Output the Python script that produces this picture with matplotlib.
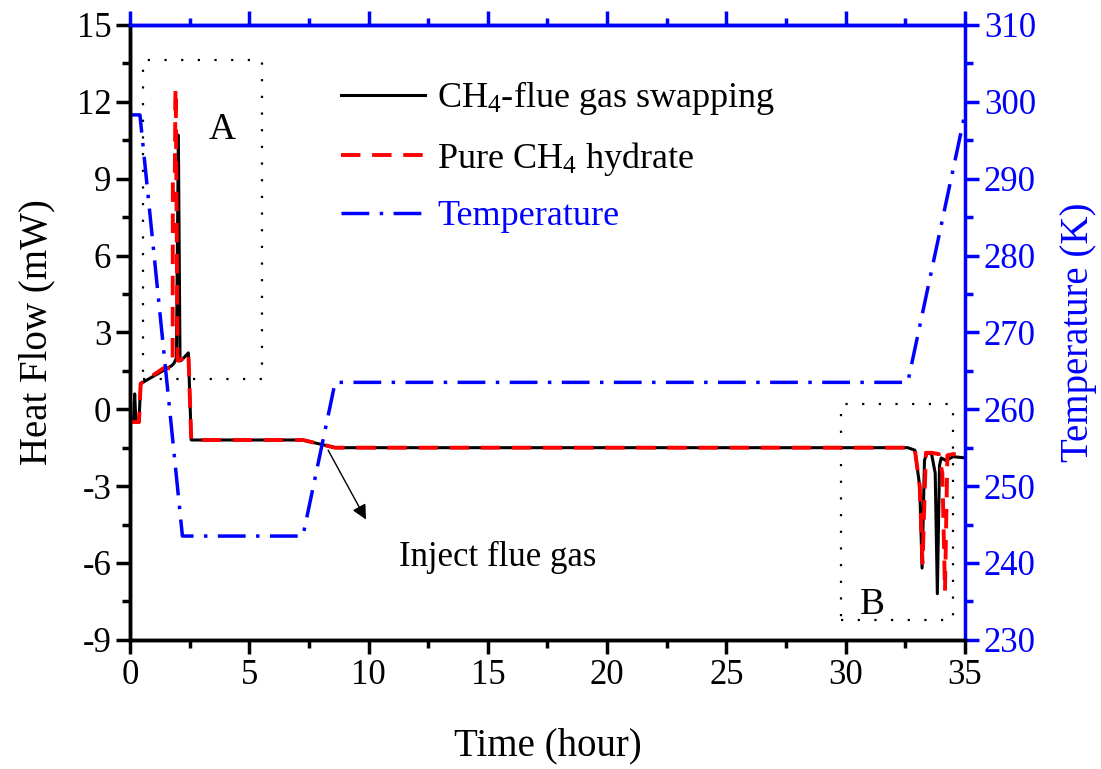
import matplotlib
matplotlib.use("Agg")
import matplotlib.pyplot as plt
from matplotlib.ticker import MultipleLocator

plt.rcParams['font.family'] = ['Liberation Serif', 'DejaVu Serif']
plt.rcParams['mathtext.fontset'] = 'custom'
plt.rcParams['mathtext.rm'] = 'Liberation Serif'
plt.rcParams['mathtext.it'] = 'Liberation Serif:italic'
plt.rcParams['axes.unicode_minus'] = False

# CH4-flue gas swapping heat flow (mW)
t_swap = [0, 0.15, 0.2, 0.25, 0.3, 0.38, 0.45, 1.75, 1.85, 1.95, 2.03, 2.1, 2.15,
          2.45, 2.57, 7.25, 8.6, 32.6, 32.9, 33.1, 33.2, 33.3, 33.4, 33.6, 33.75,
          33.84, 33.93, 34.0, 34.2, 34.5, 35]
hf_swap = [-0.5, -0.5, 0.6, -0.5, -0.5, -0.5, 1.0, 1.7, 1.8, 2.0, 10.7, 1.9, 1.9,
           2.2, -1.2, -1.2, -1.5, -1.5, -1.6, -3.0, -6.2, -2.0, -1.7, -1.75, -2.5,
           -7.2, -2.2, -1.9, -2.0, -1.85, -1.9]

# pure CH4 hydrate heat flow (mW)
t_pure = [0, 0.38, 0.45, 1.4, 1.7, 1.79, 1.8, 1.88, 1.91, 1.92, 2.0, 2.1, 2.45,
          2.57, 7.25, 8.6, 32.6, 32.9, 33.1, 33.22, 33.36, 33.6, 33.9, 34.05, 34.16,
          34.26, 34.5, 35]
hf_pure = [-0.5, -0.5, 1.0, 1.6, 1.6, 1.8, 8.9, 8.9, 12.5, 12.5, 1.9, 1.9, 2.2,
           -1.2, -1.2, -1.5, -1.5, -1.6, -3.0, -6.0, -1.7, -1.7, -1.75, -2.5, -7.1,
           -1.8, -1.75, -1.8]

# temperature (K)
t_temp = [0, 0.42, 2.2, 7.25, 8.6, 32.6, 35]
temp = [298.3, 298.3, 243.5, 243.5, 263.5, 263.5, 298.5]

# dotted boxes (x0, x1, y0, y1)
box_a = [0.53, 5.52, 1.17, 13.63]
box_b = [29.8, 34.5, -8.24, 0.2]

fig = plt.figure(figsize=(11.01, 7.69), dpi=100)
ax = fig.add_axes([0.118, 0.168, 0.7585, 0.7995])
ax2 = ax.twinx()

l1, = ax.plot(t_swap, hf_swap, color='black', lw=2.2, label='CH$_4$-flue gas swapping', zorder=3)
l2, = ax.plot(t_pure, hf_pure, color='red', lw=2.8, dashes=(5, 3), label='Pure CH$_4$ hydrate', zorder=4)
l3, = ax2.plot(t_temp, temp, color='blue', lw=2.5, dashes=(8, 3, 1, 3), label='Temperature')

for b in (box_a, box_b):
    xs = [b[0], b[1], b[1], b[0], b[0]]
    ys = [b[2], b[2], b[3], b[3], b[2]]
    ax.plot(xs, ys, color='black', lw=1.6, dashes=(1, 6.5))

ax.text(3.85, 10.9, 'A', fontsize=27, ha='center', va='center')
ax.text(31.1, -7.65, 'B', fontsize=27, ha='center', va='center')

ax.annotate('', xy=(9.95, -4.4), xytext=(8.25, -1.5),
            arrowprops=dict(arrowstyle='-|>', color='black', lw=1, mutation_scale=22))
ax.text(15.4, -5.8, 'Inject flue gas', fontsize=25, ha='center', va='center')

ax.set_xlim(0, 35)
ax.set_ylim(-9, 15)
ax2.set_ylim(230, 310)

ax.xaxis.set_major_locator(MultipleLocator(5))
ax.xaxis.set_minor_locator(MultipleLocator(2.5))
ax.yaxis.set_major_locator(MultipleLocator(3))
ax.yaxis.set_minor_locator(MultipleLocator(1.5))
ax2.yaxis.set_major_locator(MultipleLocator(10))
ax2.yaxis.set_minor_locator(MultipleLocator(5))

ax.tick_params(axis='both', which='major', direction='out', length=10, width=2.5, labelsize=25)
ax.tick_params(axis='both', which='minor', direction='out', length=6, width=2.5)
ax2.tick_params(axis='y', which='major', direction='out', length=10, width=2.5,
                labelsize=25, colors='blue')
ax2.tick_params(axis='y', which='minor', direction='out', length=6, width=2.5, colors='blue')

for s in ('left', 'bottom'):
    ax.spines[s].set_linewidth(2.5)
ax2.spines['right'].set_color('blue')
ax2.spines['right'].set_linewidth(2.5)
ax2.spines['top'].set_color('blue')
ax2.spines['top'].set_linewidth(2.5)
ax2.spines['left'].set_linewidth(2.5)
ax2.spines['bottom'].set_linewidth(2.5)

# top ticks in blue
ax3 = ax.secondary_xaxis('top')
ax3.xaxis.set_major_locator(MultipleLocator(5))
ax3.xaxis.set_minor_locator(MultipleLocator(2.5))
ax3.tick_params(which='major', direction='out', length=10, width=2.5, colors='blue', labeltop=False)
ax3.tick_params(which='minor', direction='out', length=5, width=2.5, colors='blue')
ax3.spines['top'].set_color('blue')
ax3.spines['top'].set_linewidth(2.5)

ax.set_xlabel('Time (hour)', fontsize=28, labelpad=26)
ax.set_ylabel('Heat Flow (mW)', fontsize=28, labelpad=15)
ax2.set_ylabel('Temperature (K)', fontsize=28, color='blue', labelpad=17)

leg = ax2.legend(handles=[l1, l2, l3], loc='upper left', bbox_to_anchor=(0.236, 0.935),
                 frameon=False, fontsize=26, handlelength=2.3, handletextpad=0.35,
                 labelspacing=0.62, borderaxespad=0)
leg.get_texts()[2].set_color('blue')

fig.savefig('out.png', dpi=100)
